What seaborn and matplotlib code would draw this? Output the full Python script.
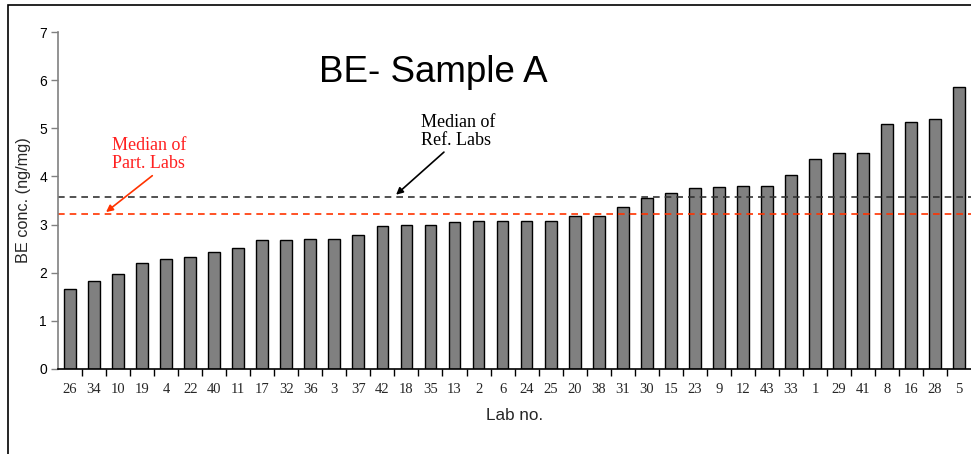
import matplotlib
matplotlib.use("Agg")
import matplotlib.pyplot as plt
import seaborn as sns
import pandas as pd
from matplotlib.patches import Rectangle

labs = ["26", "34", "10", "19", "4", "22", "40", "11", "17", "32", "36", "3", "37",
        "42", "18", "35", "13", "2", "6", "24", "25", "20", "38", "31", "30", "15",
        "23", "9", "12", "43", "33", "1", "29", "41", "8", "16", "28", "5"]
values = [1.67, 1.82, 1.97, 2.21, 2.28, 2.33, 2.42, 2.51, 2.68, 2.68, 2.69, 2.69, 2.78,
          2.98, 3.00, 3.00, 3.06, 3.08, 3.08, 3.08, 3.08, 3.18, 3.18, 3.36, 3.55, 3.66,
          3.75, 3.78, 3.81, 3.81, 4.02, 4.37, 4.49, 4.49, 5.09, 5.14, 5.19, 5.86]
median_ref = 3.57
median_part = 3.22
yticks = [0, 1, 2, 3, 4, 5, 6, 7]

df = pd.DataFrame({"lab": labs, "value": values})

sns.set_theme(style="white")
plt.rcParams["font.family"] = ["Liberation Sans", "DejaVu Sans"]

fig = plt.figure(figsize=(9.71, 4.54), dpi=100)
n = len(labs)
ax = fig.add_axes([58 / 971, 85 / 454, (n * 24.03) / 971, 337 / 454])

sns.barplot(data=df, x="lab", y="value", order=labs, color="#808080",
            edgecolor="black", linewidth=1.0, width=0.49, saturation=1, ax=ax)

ax.set_xlim(-0.5, n - 0.5)
ax.set_ylim(0, 7)
ax.set_yticks(yticks)
ax.set_yticklabels([str(t) for t in yticks], fontsize=10)

ax.axhline(median_ref, color="#333333", linestyle=(0, (4, 3)), linewidth=1.2)
ax.axhline(median_part, color="#ff3300", linestyle=(0, (4, 3)), linewidth=1.2)

# spines
for s in ["top", "right"]:
    ax.spines[s].set_visible(False)
ax.spines["left"].set_color("#808080")
ax.spines["left"].set_linewidth(1.2)
ax.spines["bottom"].set_color("black")
ax.spines["bottom"].set_linewidth(1.2)

# ticks: y outward, x at category boundaries
ax.tick_params(axis="y", direction="out", length=5, width=1, color="#808080",
               left=True, pad=3, labelcolor="black")
ax.tick_params(axis="x", which="major", length=0, pad=10)
ax.set_xticks([i + 0.5 for i in range(n - 1)], minor=True)
ax.tick_params(axis="x", which="minor", direction="out", length=5, width=1,
               color="black", bottom=True)
for lbl in ax.get_xticklabels():
    lbl.set_family(["Liberation Serif", "DejaVu Serif"])
    lbl.set_fontsize(10.5)

ax.set_xlabel("Lab no.", fontsize=12.3, labelpad=9)
ax.set_ylabel("BE conc. (ng/mg)", fontsize=11.7, labelpad=6)

# title
fig.text(433 / 971, 1 - 72 / 454, "BE- Sample A", fontsize=26.5,
         ha="center", va="center", color="black")

# annotations
ax.annotate("Median of\nPart. Labs", xy=(1.50, 3.26), xytext=(1.74, 4.45),
            ha="left", va="center", color="#ff2020", fontsize=13,
            family=["Liberation Serif", "DejaVu Serif"], linespacing=1.1,
            arrowprops=dict(arrowstyle="-|>", color="#ff3300", lw=1.2,
                            mutation_scale=10, shrinkA=0, shrinkB=0,
                            relpos=(0.6, 0.0)))
ax.annotate("Median of\nRef. Labs", xy=(13.57, 3.62), xytext=(14.6, 4.94),
            ha="left", va="center", color="black", fontsize=13,
            family=["Liberation Serif", "DejaVu Serif"], linespacing=1.1,
            arrowprops=dict(arrowstyle="-|>", color="black", lw=1.2,
                            mutation_scale=10, shrinkA=0, shrinkB=0,
                            relpos=(0.36, 0.0)))

# outer chart border (extends past right and bottom edges)
fig.patches.append(Rectangle((8 / 971, -0.1), 1.2, 1 - 5 / 454 + 0.1,
                             transform=fig.transFigure, fill=False,
                             edgecolor="black", linewidth=1.2))

fig.savefig("out.png", dpi=100)
